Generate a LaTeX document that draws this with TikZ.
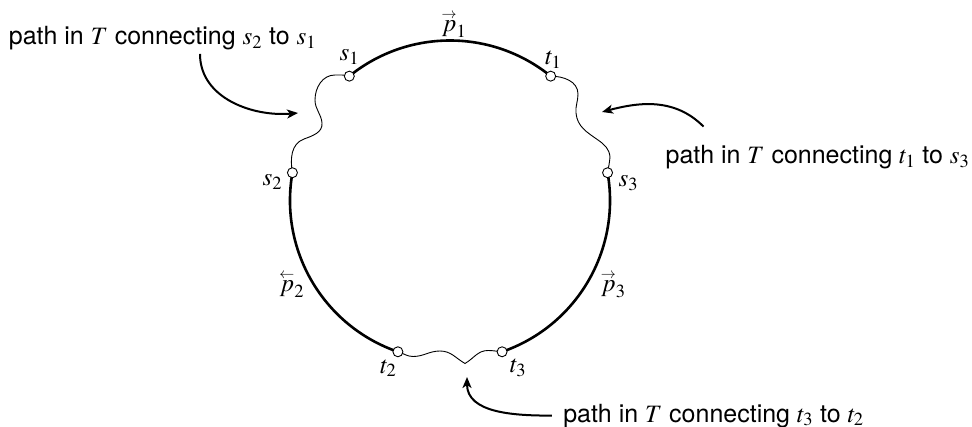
\documentclass[tikz,border=0pt]{standalone}
\usepackage{amsmath}
\usepackage{mathptmx}
\usepackage[no-math]{fontspec}
\setmainfont{TeX Gyre Heros}
\usetikzlibrary{arrows.meta,backgrounds}
\newcommand{\rpath}[1]{\overset{\raisebox{-3pt}{$\scriptscriptstyle\rightarrow$}}{#1}}
\newcommand{\lpath}[1]{\overset{\raisebox{-3pt}{$\scriptscriptstyle\leftarrow$}}{#1}}

\begin{document}
\begin{tikzpicture}[x=1pt,y=1pt,font=\fontsize{25}{30}\selectfont,
  endpt/.style={circle,draw,fill=white,line width=0.9pt,inner sep=0pt,minimum size=10pt},
  ppath/.style={line width=2.6pt},
  tpath/.style={line width=0.9pt},
  callout/.style={line width=2pt,-{Stealth[length=11pt,width=9pt,inset=3pt]}}]
  \useasboundingbox (0,0) rectangle (972,426);
  \coordinate (o) at (450,225.5);
  \foreach \n/\a/\dx/\dy/\l in {s1/129/0/19.5/s_1,t1/51/2.6/16.2/t_1,s2/170/-20/-9/s_2,
      s3/10/20.7/-10.6/s_3,t2/251/-9.6/-16.5/t_2,t3/289/15.9/-16/t_3}{
    \node[endpt] (\n) at ([shift={(\a:160)}]o) {};
    \node (l\n) at ([shift={(\dx,\dy)}]\n) {$\l$};}
  \node (p1) at (454,402) {$\rpath{p}_1$};
  \node (p2) at (291.7,142) {$\lpath{p}_2$};
  \node (p3) at (613.3,142) {$\rpath{p}_3$};
  \begin{scope}[on background layer]
    \draw[ppath] (t1.center) arc[start angle=51,end angle=129,radius=160];
    \draw[ppath] (s2.center) arc[start angle=170,end angle=251,radius=160];
    \draw[ppath] (t3.center) arc[start angle=-71,end angle=10,radius=160];
    \draw[tpath] (s2.center) to[out=100,in=200] (304,287) to[out=20,in=-85] (322,303)
      to[out=95,in=-90] (315,326) to[out=90,in=180] (335,351) to[out=0,in=165] (s1.center);
    \draw[tpath] (t1.center) to[out=0,in=90] (578,332) to[out=-90,in=95] (576,313)
      to[out=-85,in=145] (598,286) to[out=-35,in=95] (610,269) to[out=-95,in=80] (s3.center);
    \draw[tpath] (t2.center) to[out=-15,in=180] (413,69.5) to[out=0,in=180] (440,75)
      to[out=0,in=150] (465,62.5) to[out=30,in=180] (488,75.5) to[out=0,in=175] (t3.center);
  \end{scope}
  % callouts
  \node[anchor=base] (lnote) at (162.5,381) {path in $T$ connecting $s_2$ to $s_1$};
  \node[anchor=base] (rnote) at (817.5,262.7) {path in $T$ connecting $t_1$ to $s_3$};
  \node[anchor=base] (bnote) at (713.5,4) {path in $T$ connecting $t_3$ to $t_2$};
  \coordinate (aimL) at (298,313);
  \coordinate (aimR) at (602,314);
  \coordinate (aimB) at (467,49);
  \draw[callout] ([xshift=37.5pt]lnote.south) to[out=-90,in=185] (aimL);
  \draw[callout] ([shift={(-114,15)}]rnote.north) to[out=135,in=15] (aimR);
  \draw[callout] ([xshift=-8pt]bnote.west) to[out=180,in=-90] (aimB);
\end{tikzpicture}
\end{document}
